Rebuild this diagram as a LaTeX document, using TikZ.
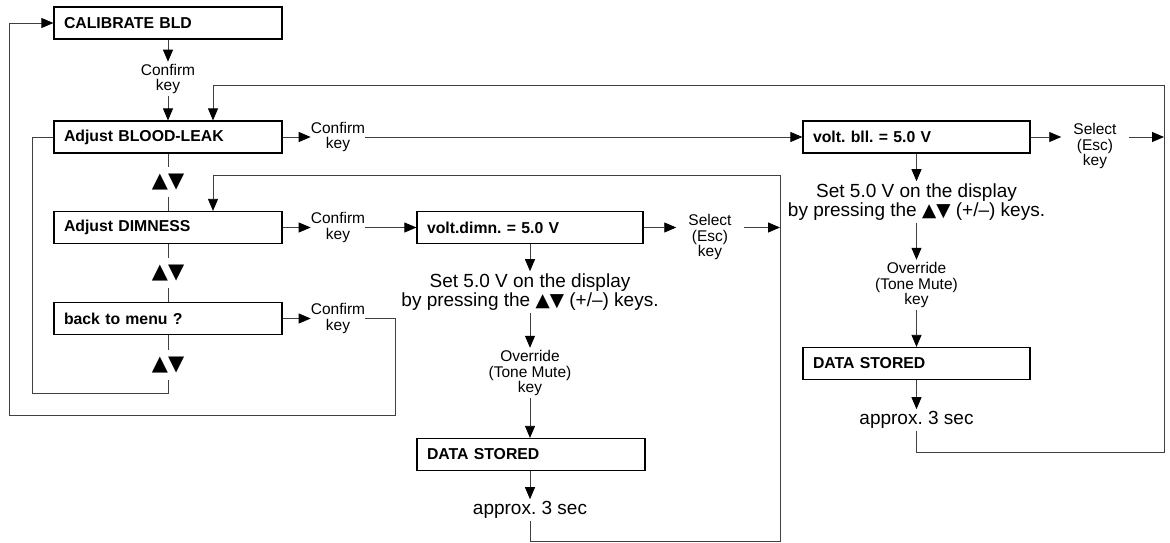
\documentclass[tikz,border=0pt]{standalone}
\usepackage{fontspec}
\setmainfont{Liberation Sans}
\newfontfamily\trifont{DejaVu Sans}
\newcommand\updn{{\trifont ▲▼}}
\usetikzlibrary{arrows.meta}
\frenchspacing

\begin{document}
\begin{tikzpicture}[x=1pt,y=-1pt,>={Triangle[length=12pt,width=10pt,color=black]},
  menubox/.style={draw,line width=1.2pt,text width=208pt,inner xsep=10pt,inner ysep=0pt,
    minimum height=32pt,align=left,font=\fontsize{15.8}{18}\selectfont\bfseries},
  keylbl/.style={inner xsep=0pt,inner ysep=2pt,align=center,font=\fontsize{15.5}{15.8}\selectfont},
  sellbl/.style={keylbl,inner xsep=12pt},
  bigtxt/.style={inner sep=2pt,align=center,font=\fontsize{19}{19.5}\selectfont},
  updown/.style={inner xsep=0pt,inner ysep=7pt,font=\fontsize{21}{21}\selectfont},
  conn/.style={black!75,line width=0.8pt}]
\useasboundingbox (0,0) rectangle (1170,543);
% menu column
\node[menubox] (calib) at (168,23) {CALIBRATE BLD};
\node[keylbl] (conf) at (168,79) {Confirm\\key};
\node[menubox] (bll) at (168,137) {Adjust BLOOD-LEAK};
\node[updown] (ud1) at (168,182) {\updn};
\node[menubox] (dimn) at (168,227.5) {Adjust DIMNESS};
\node[updown] (ud2) at (168,273) {\updn};
\node[menubox] (back) at (168,318.5) {back to menu ?};
\node[updown] (ud3) at (168,365) {\updn};
\node[keylbl] (confbll) at (338,137) {Confirm\\key};
\node[keylbl] (confdimn) at (338,227.5) {Confirm\\key};
\node[keylbl] (confback) at (338,318.5) {Confirm\\key};
% dimness column
\node[menubox,text width=206pt] (voltdimn) at (530,227.5) {volt.dimn. = 5.0 V};
\node[sellbl] (seldimn) at (710,237) {Select\\(Esc)\\key};
\node[bigtxt] (setdimn) at (530,292) {Set 5.0 V on the display\\by pressing the {\fontsize{18.5}{16}\selectfont\updn} (+/–) keys.};
\node[keylbl] (ovrdimn) at (530,373) {Override\\(Tone Mute)\\key};
\node[menubox] (storeddimn) at (531,454.5) {DATA STORED};
\node[bigtxt] (secdimn) at (530,510) {approx. 3 sec};
% blood-leak column
\node[menubox,text width=207pt] (voltbll) at (916.5,137) {volt. bll. = 5.0 V};
\node[sellbl] (selbll) at (1095,146) {Select\\(Esc)\\key};
\node[bigtxt] (setbll) at (916.5,202) {Set 5.0 V on the display\\by pressing the {\fontsize{18.5}{16}\selectfont\updn} (+/–) keys.};
\node[keylbl] (ovrbll) at (916.5,285) {Override\\(Tone Mute)\\key};
\node[menubox,text width=207pt] (storedbll) at (916.5,363.5) {DATA STORED};
\node[bigtxt] (secbll) at (916.5,420) {approx. 3 sec};
% loop corners
\coordinate (lloop) at (32,393);
\coordinate (oloopr) at (395,415);
\coordinate (oloopl) at (9,415);
\coordinate (mloop) at (780,541);
\coordinate (dimnin) at (213,175);
\coordinate (rloop) at (1164,452);
\coordinate (bllin) at (213,85);

\draw[conn,->] (calib) -- (conf);
\draw[conn,->] (conf) -- (bll);
\draw[conn] (bll) -- (ud1);
\draw[conn] (ud1) -- (dimn);
\draw[conn] (dimn) -- (ud2);
\draw[conn] (ud2) -- (back);
\draw[conn] (back) -- (ud3);
\draw[conn] (ud3.south) |- (lloop) |- (bll.west);
\draw[conn,->] (bll) -- (confbll);
\draw[conn,->] (dimn) -- (confdimn);
\draw[conn,->] (back) -- (confback);
\draw[conn,->] (confback.east) -| (oloopr) -- (oloopl) |- (calib.west);
% volt. dimn.
\draw[conn,->] (confdimn) -- (voltdimn);
\draw[conn,->] (voltdimn.east) -- (voltdimn.east -| seldimn.west);
\draw[conn,->] (voltdimn.east -| seldimn.east) -- (voltdimn.east -| mloop);
\draw[conn,->] (voltdimn) -- (setdimn);
\draw[conn,->] (setdimn) -- (ovrdimn);
\draw[conn,->] (ovrdimn) -- (ovrdimn |- storeddimn.north);
\draw[conn,->] (storeddimn.south -| secdimn) -- (secdimn);
\draw[conn,->] (secdimn.south) |- (mloop) |- (dimnin) -- (dimnin |- dimn.north);
% volt. bll.
\draw[conn,->] (confbll) -- (voltbll);
\draw[conn,->] (voltbll.east) -- (voltbll.east -| selbll.west);
\draw[conn,->] (voltbll.east -| selbll.east) -- (voltbll.east -| rloop);
\draw[conn,->] (voltbll) -- (setbll);
\draw[conn,->] (setbll) -- (ovrbll);
\draw[conn,->] (ovrbll) -- (storedbll);
\draw[conn,->] (storedbll) -- (secbll);
\draw[conn,->] (secbll.south) |- (rloop) |- (bllin) -- (bllin |- bll.north);
\end{tikzpicture}
\end{document}
